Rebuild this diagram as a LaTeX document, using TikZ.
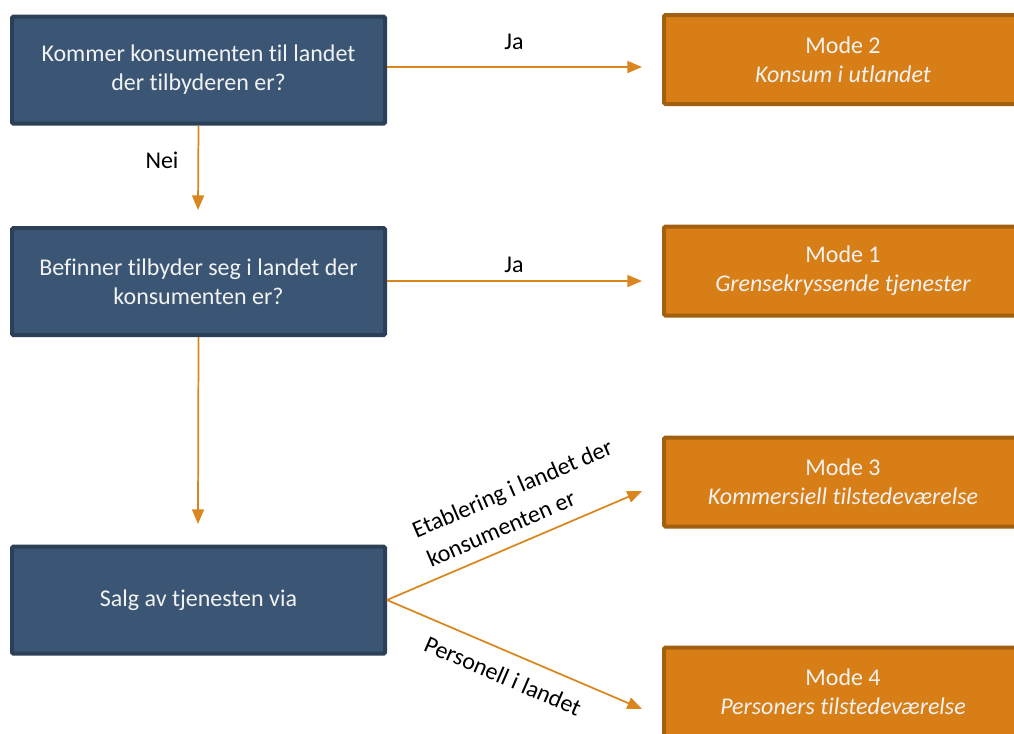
\documentclass[tikz,border=0pt]{standalone}
\usepackage{fontspec}
\setmainfont[Ligatures=NoCommon]{Carlito}
\usetikzlibrary{arrows.meta}
\definecolor{bluefill}{HTML}{3A5674}
\definecolor{blueline}{HTML}{2B3F56}
\definecolor{orfill}{HTML}{D77E17}
\definecolor{orline}{HTML}{A35F10}
\definecolor{arr}{HTML}{D9861E}
\definecolor{txt}{HTML}{F2F2F2}
\tikzset{
  qbox/.style={draw=blueline, fill=bluefill, line width=3pt, rounded corners=1pt,
    minimum width=377*0.75pt-3pt, minimum height=111*0.75pt-3pt, inner sep=0pt,
    text=txt, align=center, font=\fontsize{18}{21.8}\selectfont},
  mbox/.style={draw=orline, fill=orfill, line width=3pt, rounded corners=1pt,
    minimum width=362*0.75pt-3pt, minimum height=93*0.75pt-3pt, inner sep=0pt,
    text=txt, align=center, font=\fontsize{18}{21.8}\selectfont},
  flow/.style={draw=arr, line width=1.3pt, -{Triangle[length=11pt,width=9pt]}},
  lbl/.style={font=\fontsize{18}{21.8}\selectfont, text=black, align=center, inner sep=0pt}
}
\begin{document}
\begin{tikzpicture}[x=0.75pt,y=-0.75pt]
\useasboundingbox (0,0) rectangle (1014,733);
\begin{scope}
\clip (0,0) rectangle (1014,733);
\node[qbox] (q1) at (198.5,70) {Kommer konsumenten til landet\\der tilbyderen er?};
\node[qbox] (q2) at (198.5,281.5) {Befinner tilbyder seg i landet der\\konsumenten er?};
\node[qbox] (q3) at (198.5,600) {Salg av tjenesten via};
\node[mbox] (m2) at (843,59.5) {Mode 2\\\textit{Konsum i utlandet}};
\node[mbox] (m1) at (843,271) {Mode 1\\\textit{Grensekryssende tjenester}};
\node[mbox] (m3) at (843,482) {Mode 3\\\textit{Kommersiell tilstedeværelse}};
\node[mbox] (m4) at (843,692) {Mode 4\\\textit{Personers tilstedeværelse}};
\end{scope}
\coordinate (a1) at (642,67);
\coordinate (a2) at (198,210);
\coordinate (a3) at (642,281);
\coordinate (a4) at (198,524);
\coordinate (a5) at (642,491);
\coordinate (a6) at (642,709);
\draw[flow] (q1.east |- a1) -- (a1);
\draw[flow] (q1.south) -- (a2);
\draw[flow] (q2.east |- a3) -- (a3);
\draw[flow] (q2.south) -- (a4);
\draw[flow] (q3.east) -- (a5);
\draw[flow] (q3.east) -- (a6);
\node[lbl] (l1) at (514,42) {Ja};
\node[lbl] (l2) at (162,160) {Nei};
\node[lbl] (l3) at (514,265) {Ja};
\node[lbl, rotate=23.3] (l4a) at (513,490) {Etablering i landet der};
\node[lbl, rotate=23.3] (l4b) at (501,528) {konsumenten er};
\node[lbl, rotate=-23.3] (l5) at (503,676) {Personell i landet};
\end{tikzpicture}
\end{document}
